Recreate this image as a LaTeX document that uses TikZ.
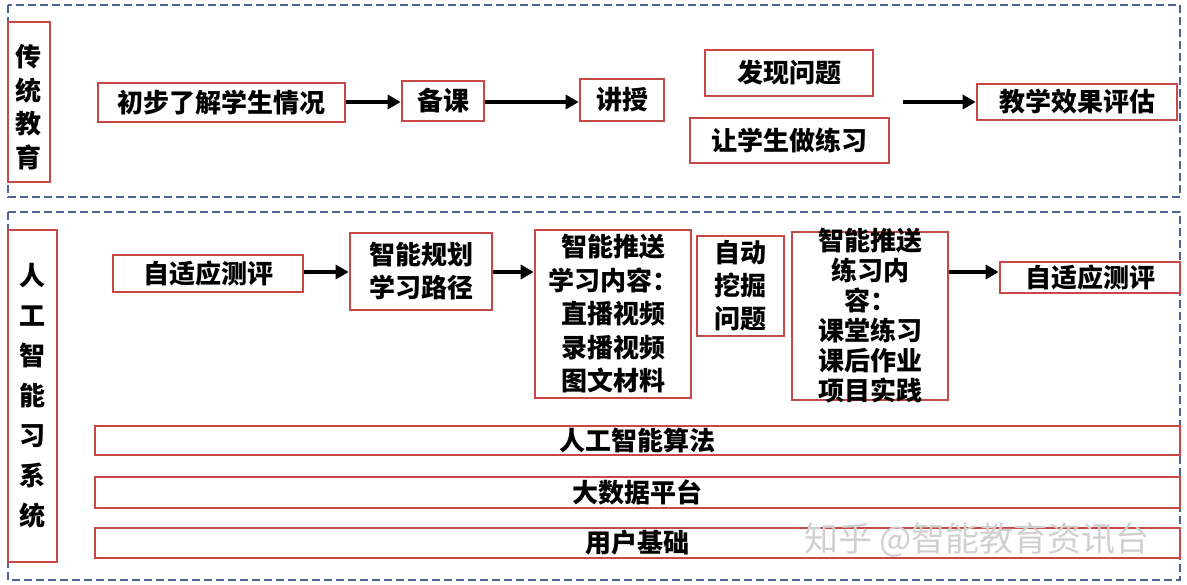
\documentclass[tikz,border=0pt]{standalone}
\usepackage{fontspec}
\newfontfamily\cjk{Noto Sans CJK SC}
\usetikzlibrary{arrows.meta}
\definecolor{boxred}{RGB}{200,72,72}
\definecolor{dashblue}{RGB}{80,98,145}
\definecolor{wmgray}{RGB}{208,208,208}
\tikzset{
  box/.style={draw=boxred, line width=2.6pt, fill=white, inner sep=0pt, align=center,
    font=\cjk\bfseries\fontsize{26}{33}\selectfont},
  txt/.style={inner sep=0pt, align=center, font=\cjk\bfseries\fontsize{26}{30}\selectfont},
  group/.style={draw=dashblue, line width=2.4pt, dash pattern=on 8pt off 4pt},
  flow/.style={line width=3.5pt, -{Triangle[length=13pt,width=14pt]}},
}
\begin{document}
\begin{tikzpicture}[x=1pt,y=-1pt]
\useasboundingbox (0,0) rectangle (1187,585);
% group frames
\draw[group] (8,5) rectangle (1180,197);
\draw[group] (8,212) rectangle (1180,580);
% traditional education
\node[box, minimum width=42pt, minimum height=160pt] (t1) at (29,102) {};
\node[txt, font=\cjk\bfseries\fontsize{26}{33.5}\selectfont] (t1t) at (29,107) {传\\统\\教\\育};
\node[box, minimum width=247pt, minimum height=39pt] (n1) at (221.5,102.5) {初步了解学生情况};
\node[box, minimum width=82pt, minimum height=40pt] (n2) at (443,101) {备课};
\node[box, minimum width=84pt, minimum height=42pt] (n3) at (622,100) {讲授};
\node[box, minimum width=168pt, minimum height=46pt] (n4a) at (789,73) {发现问题};
\node[box, minimum width=199pt, minimum height=45pt] (n4b) at (789.5,140.5) {让学生做练习};
\node[box, minimum width=200pt, minimum height=36pt] (n5) at (1077,102) {教学效果评估};
\coordinate (s5) at (903,102);
\draw[flow] (n1.east |- s5) -- (n2.west |- s5);
\draw[flow] (n2.east |- s5) -- (n3.west |- s5);
\draw[flow] (s5) -- (n5.west);
% AI learning system
\node[box, minimum width=49pt, minimum height=332pt, font=\cjk\bfseries\fontsize{26}{40}\selectfont] (t2) at (32.5,396) {人\\工\\智\\能\\习\\系\\统};
\node[box, minimum width=190pt, minimum height=37pt] (m1) at (208,273.5) {自适应测评};
\node[box, minimum width=142pt, minimum height=77pt] (m2) at (421,271.5) {智能规划\\学习路径};
\node[box, minimum width=156pt, minimum height=168pt] (m3) at (613,314) {};
\node[txt, font=\cjk\bfseries\fontsize{26}{33.5}\selectfont] (m3t) at (613,314) {智能推送\\学习内容：\\直播视频\\录播视频\\图文材料};
\node[box, minimum width=87pt, minimum height=100pt] (m4) at (740.5,286) {自动\\挖掘\\问题};
\node[box, minimum width=156pt, minimum height=168pt] (m5) at (870,316) {};
\node[txt] (m5t) at (m5.center) {智能推送\\练习内\\容：\\课堂练习\\课后作业\\项目实践};
\node[box, minimum width=180pt, minimum height=31pt] (m6) at (1090,277.5) {自适应测评};
\draw[flow] (m1.east |- 0,272) -- (m2.west |- 0,272);
\draw[flow] (m2.east |- 0,272) -- (m3.west |- 0,272);
\draw[flow] (m5.east |- 0,272) -- (m6.west |- 0,272);
% base layers
\node[box, minimum width=1085pt, minimum height=29pt] (b1) at (637.5,440.5) {人工智能算法};
\node[box, minimum width=1085pt, minimum height=31pt] (b2) at (637.5,492.5) {大数据平台};
\node[box, minimum width=1085pt, minimum height=30pt] (b3) at (637.5,543) {用户基础};
% watermark
\node[inner sep=0pt, text=wmgray, font=\cjk\fontsize{34}{34}\selectfont] (wm) at (977,540) {知乎 @智能教育资讯台};
\end{tikzpicture}
\end{document}
